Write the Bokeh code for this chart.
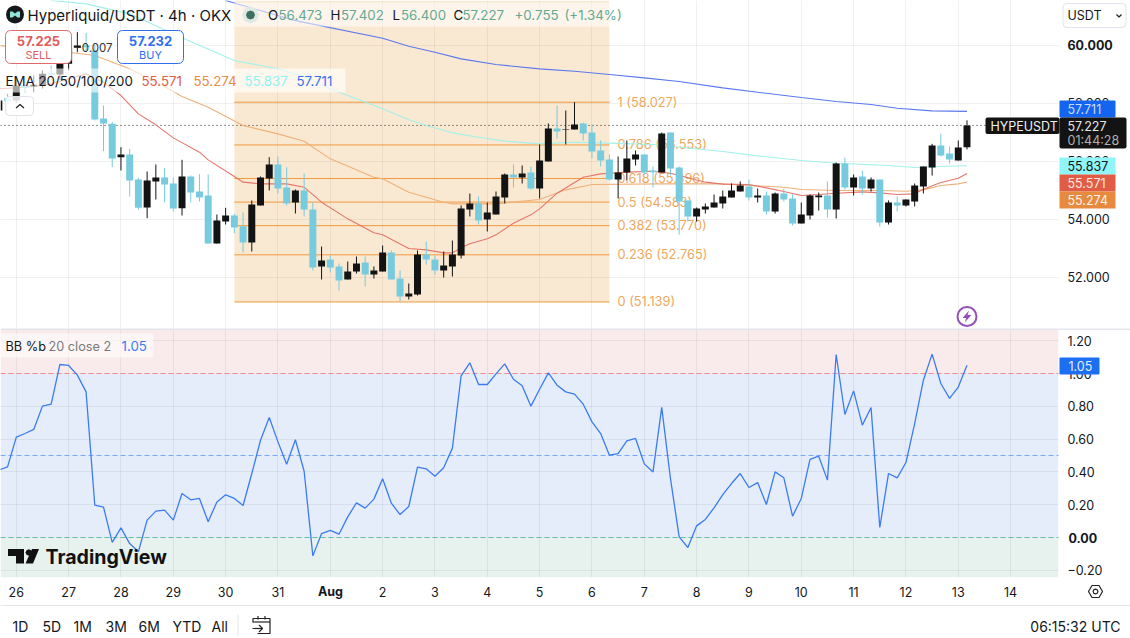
from bokeh.plotting import figure
from bokeh.layouts import column
from bokeh.models import (Label, BoxAnnotation, PolyAnnotation, Grid, LinearAxis, FixedTicker,
                          Range1d)
from bokeh.core.properties import value
from bokeh.embed import file_html
from bokeh.resources import INLINE

# ---------- chart values ----------
bar_index = list(range(-2, 110))
open_ = [57.741, 58.166, 58.086, 58.60, 58.57, 58.603, 59.028, 58.982, 59.35, 59.902, 59.98, 59.81,
         57.465, 57.281, 56.132, 56.224, 55.362, 54.396, 55.293, 55.431, 55.224, 54.373,
         55.465, 54.948, 54.810, 53.155, 53.914, 54.120, 53.753, 53.190, 54.465, 55.396,
         55.879, 55.086, 54.569, 54.982, 54.327, 52.362, 52.603, 52.362, 51.914, 52.189,
         52.500, 52.086, 52.189, 52.845, 51.948, 51.327, 51.396, 52.776, 52.603, 52.224,
         52.362, 52.741, 54.327, 54.534, 53.983, 54.155, 54.741, 55.534, 55.431, 55.603,
         55.051, 55.983, 57.120, 57.074, 57.086, 57.293, 56.982, 56.362, 56.052, 55.362,
         55.603, 56.052, 56.224, 55.672, 55.603, 56.982, 55.776, 54.638, 54.086, 54.327,
         54.396, 54.534, 54.741, 54.948, 55.121, 54.741, 54.810, 54.258, 54.879, 54.707,
         53.845, 54.120, 54.752, 54.810, 54.327, 55.913, 55.086, 55.465, 55.051, 55.362,
         53.879, 54.569, 54.465, 54.603, 55.121, 55.776, 56.534, 56.258, 56.017, 56.473]
high = [58.25, 58.316, 58.80, 58.75, 58.948, 59.12, 59.293, 59.81, 60.10, 60.442, 60.419, 60.00,
        57.913, 57.339, 56.477, 56.419, 55.419, 55.638, 55.879, 55.764, 55.431, 56.040,
        55.500, 55.546, 55.534, 54.155, 54.385, 54.178, 54.224, 54.638, 55.465, 56.132,
        56.155, 55.787, 55.017, 55.569, 54.569, 53.052, 52.741, 52.465, 52.534, 52.707,
        52.707, 52.362, 53.086, 52.914, 52.224, 51.776, 52.914, 53.224, 52.741, 52.879,
        53.258, 54.465, 54.879, 54.776, 54.569, 54.948, 55.569, 55.879, 55.845, 55.810,
        56.569, 57.293, 57.913, 57.741, 58.027, 57.327, 57.258, 56.707, 56.224, 56.155,
        56.707, 56.362, 56.224, 55.810, 56.982, 56.982, 55.810, 54.638, 54.396, 54.534,
        54.845, 54.982, 55.224, 55.293, 55.362, 55.051, 54.948, 54.913, 55.051, 54.845,
        54.569, 54.845, 54.913, 55.293, 55.948, 56.120, 55.534, 55.672, 55.431, 55.362,
        54.638, 54.776, 54.672, 55.224, 55.810, 56.592, 56.948, 56.500, 56.707, 57.402]
low = [57.60, 57.95, 58.00, 58.35, 58.373, 58.50, 58.775, 58.80, 59.12, 59.75, 59.752, 57.396,
       56.339, 55.787, 55.672, 54.775, 54.327, 54.028, 54.672, 54.569, 54.258, 54.120,
       54.569, 54.603, 53.155, 53.155, 53.810, 53.511, 52.845, 52.879, 54.465, 54.982,
       54.879, 54.465, 54.189, 54.086, 52.224, 51.914, 52.155, 51.534, 51.914, 52.121,
       51.672, 51.948, 52.189, 51.914, 51.155, 51.224, 51.362, 52.431, 52.086, 51.983,
       52.017, 52.638, 54.086, 53.810, 53.569, 54.155, 54.534, 55.086, 55.224, 55.017,
       54.707, 55.983, 56.776, 56.569, 57.086, 56.707, 56.086, 55.810, 55.327, 54.707,
       55.327, 55.845, 55.534, 55.086, 55.603, 55.500, 53.465, 53.914, 53.914, 54.189,
       54.396, 54.362, 54.741, 54.948, 54.638, 54.569, 54.155, 54.189, 54.603, 53.776,
       53.845, 53.983, 54.293, 54.052, 54.017, 55.017, 54.810, 54.845, 54.948, 53.741,
       53.810, 54.258, 54.431, 54.431, 54.879, 55.500, 56.155, 55.914, 56.017, 56.400]
close = [58.086, 58.063, 58.603, 58.52, 58.626, 59.005, 58.982, 59.35, 59.925, 59.982, 59.925, 57.431,
         57.293, 56.086, 56.224, 55.327, 54.385, 55.327, 55.431, 55.189, 54.362, 55.465,
         54.913, 54.741, 53.155, 53.948, 54.120, 53.707, 53.190, 54.500, 55.431, 55.879,
         55.051, 54.534, 54.982, 54.327, 52.327, 52.569, 52.327, 51.879, 52.189, 52.465,
         52.086, 52.224, 52.845, 51.914, 51.327, 51.431, 52.776, 52.603, 52.224, 52.396,
         52.776, 54.362, 54.534, 53.948, 54.224, 54.776, 55.534, 55.431, 55.569, 55.051,
         56.017, 57.120, 57.017, 57.097, 57.258, 56.948, 56.327, 56.017, 55.362, 55.603,
         56.086, 56.224, 55.603, 55.615, 56.948, 55.741, 54.603, 54.086, 54.362, 54.431,
         54.569, 54.776, 54.982, 55.155, 54.741, 54.810, 54.258, 54.879, 54.672, 53.845,
         54.155, 54.810, 54.810, 54.327, 55.913, 55.086, 55.431, 55.051, 55.362, 53.879,
         54.569, 54.465, 54.672, 55.155, 55.810, 56.534, 56.189, 56.052, 56.465, 57.227]

ema20_x = [-2, 2, 4, 8, 10, 12, 14, 16, 18, 21, 22, 25, 26, 28, 31, 33, 35, 38, 41, 42, 45, 47, 49, 50, 51, 52, 54,
           55, 57, 59, 60, 62, 65, 67, 70, 73, 75, 79, 81, 84, 86, 88, 90, 92, 94, 97, 99, 101, 103, 104, 106, 108, 109]
ema20_y = [58.488, 58.569, 58.660, 59.005, 58.718, 58.258, 57.626, 57.247, 56.798, 56.304, 56.040, 55.465, 55.270,
           55.212, 55.212, 55.097, 54.580, 54.005, 53.523, 53.454, 52.983, 52.936, 52.833, 52.833, 53.005, 53.144,
           53.316, 53.454, 53.856, 54.143, 54.350, 54.890, 55.442, 55.557, 55.615, 55.649, 55.580, 55.270, 55.201,
           55.189, 55.074, 54.948, 54.810, 54.845, 54.890, 54.936, 54.902, 54.845, 54.867, 55.028, 55.258, 55.408, 55.571]
ema50_x = [-2, 6, 9, 13, 17, 19, 22, 26, 30, 33, 36, 41, 42, 45, 49, 50, 55, 60, 63, 66, 74, 81, 85, 88, 90, 94, 99,
           102, 104, 106, 108, 109]
ema50_y = [59.982, 59.752, 59.637, 59.178, 58.568, 58.224, 57.856, 57.224, 56.936, 56.683, 56.074, 55.442, 55.385,
           54.925, 54.580, 54.523, 54.523, 54.672, 55.005, 55.189, 55.212, 55.212, 55.143, 55.097, 55.017, 54.982,
           54.982, 54.959, 55.005, 55.155, 55.212, 55.274]
ema100_x = [4, 8, 13, 19, 25, 30, 33, 36, 42, 45, 47, 50, 53, 56, 60, 64, 68, 73, 81, 85, 90, 94, 100, 103, 106, 109]
ema100_y = [61.534, 61.419, 61.074, 60.247, 59.465, 59.178, 58.913, 58.488, 57.798, 57.419, 57.224, 56.971, 56.821,
            56.684, 56.592, 56.649, 56.615, 56.569, 56.327, 56.178, 56.017, 55.925, 55.845, 55.776, 55.810, 55.837]
ema200_x = [24, 32, 42, 45, 48, 51, 55, 60, 64, 68, 72, 76, 81, 85, 90, 94, 98, 101, 105, 109]
ema200_y = [61.534, 60.84, 60.235, 59.959, 59.752, 59.522, 59.327, 59.178, 59.097, 58.982, 58.867, 58.741, 58.523,
            58.373, 58.190, 58.051, 57.948, 57.821, 57.729, 57.711]

bb_pct = [0.411, 0.431, 0.612, 0.634, 0.659, 0.801, 0.813, 1.055, 1.049, 0.990, 0.888, 0.197,
          0.185, -0.030, 0.059, -0.037, -0.087, 0.106, 0.161, 0.167, 0.106, 0.268,
          0.230, 0.238, 0.096, 0.217, 0.260, 0.238, 0.195, 0.390, 0.593, 0.732,
          0.583, 0.447, 0.596, 0.404, -0.112, 0.024, 0.043, 0.020, 0.126, 0.211,
          0.179, 0.234, 0.358, 0.209, 0.140, 0.189, 0.429, 0.419, 0.374, 0.425,
          0.545, 0.986, 1.065, 0.933, 0.933, 0.998, 1.059, 0.965, 0.925, 0.801,
          0.904, 1.004, 0.929, 0.888, 0.874, 0.813, 0.705, 0.634, 0.502, 0.512,
          0.589, 0.604, 0.449, 0.400, 0.793, 0.360, 0.004, -0.061, 0.071, 0.110,
          0.181, 0.262, 0.329, 0.390, 0.305, 0.335, 0.201, 0.400, 0.364, 0.130,
          0.238, 0.476, 0.496, 0.350, 1.116, 0.750, 0.894, 0.685, 0.793, 0.061,
          0.390, 0.364, 0.457, 0.695, 0.959, 1.118, 0.939, 0.848, 0.917, 1.051]

fib_ratio = ["1", "0.786", "0.618", "0.5", "0.382", "0.236", "0"]
fib_price = [58.027, 56.553, 55.396, 54.583, 53.770, 52.765, 51.139]
fib_start, fib_end = 25.0, 68.0
bb_levels = [1.0, 0.5, 0.0]
bb_level_colors = ["#f08a90", "#7aa8f8", "#62bfa6"]

day_ticks = [6 * k for k in range(0, 20)]
day_labels = ["26", "27", "28", "29", "30", "31", "", "2", "3", "4", "5", "6", "7", "8", "9",
              "10", "11", "12", "13", "14"]
price_ticks = [52, 54, 56, 58]
bb_ticks = [-0.2, 0.2, 0.4, 0.6, 0.8, 1.0, 1.2]
bb_tick_labels = ["\u22120.20", "0.20", "0.40", "0.60", "0.80", "1.00", "1.20"]
bb_grid = [-0.2, 0, 0.2, 0.4, 0.6, 0.8, 1.0, 1.2]
range_buttons = ["1D", "5D", "1M", "3M", "6M", "YTD", "All"]

# ---------- colours / fonts ----------
FONT = "Inter"
UP, DOWN = "#131313", "#76cbdf"
INK = "#131722"

# ---------- scale helpers ----------
def X(px): return (px - 15.8) / 8.722
def Y1(py): return 60 - (py - 44.5) / 29.0
def Y2(py): return (537 - py) / 164.0


# transparent layer for the TradingView chrome, measured in page pixels
ov = figure(width=1130, height=638, x_range=Range1d(0, 1130), y_range=Range1d(638, 0),
            x_axis_type=None, y_axis_type=None, output_backend="svg", toolbar_location=None,
            min_border=0, outline_line_color=None, background_fill_color=None, border_fill_color=None,
            styles={"position": "absolute", "left": "0px", "top": "0px", "z-index": "5"})


def txt(x, y, s, color=INK, size=13, style="normal", align="left"):
    ov.add_layout(Label(x=x, y=y, text=s, text_color=color, text_font=FONT,
                        text_font_size=f"{size}px", text_font_style=style,
                        text_align=align, text_baseline="middle"))


def box(l, t, r, b, fill="#ffffff", alpha=1.0, line=None, radius=0, line_width=1):
    ov.add_layout(BoxAnnotation(left=l, right=r, top=t, bottom=b, fill_color=fill, fill_alpha=alpha,
                                line_color=line, line_alpha=1.0 if line else 0.0, line_width=line_width,
                                border_radius=radius))


def poly(pts, fill=None, line=INK, line_width=1.2, path=False):
    pts = list(pts)
    if path:
        pts = pts + pts[-2:0:-1]
    ov.add_layout(PolyAnnotation(xs=[a for a, _ in pts], ys=[b for _, b in pts],
                                 fill_color=fill, fill_alpha=1.0 if fill else 0.0,
                                 line_color=line, line_alpha=1.0 if line else 0.0, line_width=line_width))


x_range = Range1d(X(0), X(1058))

# ---------- price pane ----------
p1 = figure(width=1130, height=329, x_range=x_range, y_range=Range1d(Y1(329), Y1(0)),
            x_axis_type=None, y_axis_type=None, output_backend="svg", toolbar_location=None,
            min_border_left=0, min_border_right=72, min_border_top=0, min_border_bottom=0,
            outline_line_color=None, background_fill_color="#ffffff", border_fill_color="#ffffff")
GRID_KW = dict(grid_line_color="#2a2e39", grid_line_alpha=0.07, grid_line_width=1)
p1.add_layout(Grid(dimension=0, ticker=FixedTicker(ticks=day_ticks), **GRID_KW))
p1.add_layout(Grid(dimension=1, ticker=FixedTicker(ticks=price_ticks + [60]), **GRID_KW))
ax1 = LinearAxis(ticker=FixedTicker(ticks=price_ticks),
                 major_label_overrides={t: f"{t}.000" for t in price_ticks},
                 major_tick_line_color=None, minor_tick_line_color=None, axis_line_color=None,
                 major_label_standoff=3, major_label_text_font=FONT, major_label_text_font_size="12.5px",
                 major_label_text_color=INK)
p1.add_layout(ax1, "right")

p1.quad(left=[fib_start], right=[fib_end], top=[Y1(0)], bottom=[fib_price[-1]],
        fill_color="#fae9d2", line_color=None, level="image")
p1.segment(x0=[X(0)], x1=[X(1058)], y0=[close[-1]], y1=[close[-1]], line_color="#222222", line_dash="1 3", line_width=1)
p1.segment(x0=[fib_start] * 7, x1=[fib_end] * 7, y0=fib_price, y1=fib_price, line_color="#f09a3e", line_width=1)
p1.text(x=[X(617)] * 7, y=fib_price, text=[f"{r} ({v:.3f})" for r, v in zip(fib_ratio, fib_price)],
        text_color="#eea85c", text_font=value(FONT), text_font_size="12.8px", text_baseline="middle")

p1.line(ema200_x, ema200_y, line_color="#5a78f0", line_width=1.1)
p1.line(ema100_x, ema100_y, line_color="#a2f1ea", line_width=1.1)
p1.line(ema50_x, ema50_y, line_color="#efb078", line_width=1.1)
p1.line(ema20_x, ema20_y, line_color="#e5766a", line_width=1.1)

colors = [UP if c >= o else DOWN for o, c in zip(open_, close)]
p1.segment(x0=bar_index, x1=bar_index, y0=low, y1=high, line_color=colors, line_width=1)
p1.vbar(x=bar_index, width=0.8, top=[max(a, b) for a, b in zip(open_, close)],
        bottom=[min(a, b) for a, b in zip(open_, close)], fill_color=colors, line_color=None)

# lightning marker
p1.scatter([X(966.5)], [Y1(316)], size=19, marker="circle", fill_color="#ffffff", line_color="#9350ba", line_width=2)
p1.patch([X(a) for a in (968.5, 962, 965.8, 964.2, 971, 967, 968.5)],
         [Y1(b) for b in (310, 317.5, 317.5, 322, 314.5, 314.5, 310)], fill_color="#9350ba", line_color=None)

# ---------- BB %b pane ----------
p2 = figure(width=1130, height=309, x_range=x_range, y_range=Range1d(Y2(577), Y2(329)),
            x_axis_type=None, y_axis_type=None, output_backend="svg", toolbar_location=None,
            min_border_left=0, min_border_right=72, min_border_top=0, min_border_bottom=61,
            outline_line_color=None, background_fill_color="#ffffff", border_fill_color="#ffffff")
p2.quad(left=[X(0)] * 3, right=[X(1058)] * 3, top=[Y2(329), 1.0, 0.0], bottom=[1.0, 0.0, Y2(577)],
        fill_color=["#f9ebeb", "#e5edfb", "#e7f2ef"], line_color=None, level="image")
p2.add_layout(Grid(dimension=0, ticker=FixedTicker(ticks=day_ticks), **GRID_KW))
p2.add_layout(Grid(dimension=1, ticker=FixedTicker(ticks=bb_grid), **GRID_KW))
dash_starts = list(range(0, 1058, 8))
for lvl, col in zip(bb_levels, bb_level_colors):
    p2.segment(x0=[X(s) for s in dash_starts], x1=[X(s + 5) for s in dash_starts],
               y0=[lvl] * len(dash_starts), y1=[lvl] * len(dash_starts), line_color=col, line_width=1)
p2.line(bar_index, bb_pct, line_color="#3b7cf2", line_width=1.3)

ax2 = LinearAxis(ticker=FixedTicker(ticks=bb_ticks), major_label_overrides=dict(zip(bb_ticks, bb_tick_labels)),
                 major_tick_line_color=None, minor_tick_line_color=None, axis_line_color=None,
                 major_label_standoff=3, major_label_text_font=FONT, major_label_text_font_size="12.5px",
                 major_label_text_color=INK)
p2.add_layout(ax2, "right")
ax3 = LinearAxis(ticker=FixedTicker(ticks=day_ticks), major_label_overrides=dict(zip(day_ticks, day_labels)),
                 major_tick_line_color=None, minor_tick_line_color=None, axis_line_color=None,
                 major_label_standoff=3, major_label_text_font=FONT, major_label_text_font_size="12.5px",
                 major_label_text_color=INK)
p2.add_layout(ax3, "below")

# ---------- chrome, price pane ----------
box(234, 2, 610, 26, alpha=0.55)
box(0, 68, 345, 92, alpha=0.62)
box(5, 30, 71, 63, line="#e26a6a", radius=5)
txt(38, 40, "57.225", color="#e05c5c", size=13, style="bold", align="center")
txt(38, 54, "SELL", color="#e05c5c", size=11, align="center")
box(117, 30, 183, 63, line="#2f6ff0", radius=5)
txt(150, 40, "57.232", color="#2f6ff0", size=13, style="bold", align="center")
txt(150, 54, "BUY", color="#2f6ff0", size=11, align="center")
txt(94, 47, "-0.007", color="#333333", size=11.5, align="center")
box(5, 96, 33, 115, alpha=0.85, line="#dfe2e8", radius=4)
poly([(15.5, 107.5), (19.5, 104), (23.5, 107.5)], line="#222222", path=True)

poly([(14.5 + dx, 14 + dy) for dx, dy in
      ((9, 0), (8.3, 3.4), (6.4, 6.4), (3.4, 8.3), (0, 9), (-3.4, 8.3), (-6.4, 6.4), (-8.3, 3.4), (-9, 0),
       (-8.3, -3.4), (-6.4, -6.4), (-3.4, -8.3), (0, -9), (3.4, -8.3), (6.4, -6.4), (8.3, -3.4))],
     fill="#16191c", line=None)
poly([(9.5, 11), (12, 11), (14.5, 13), (17, 11), (19.5, 11), (19.5, 17), (17, 17), (14.5, 15), (12, 17), (9.5, 17)],
     fill="#8fe5d8", line=None)
txt(27, 14.5, "Hyperliquid/USDT \u00b7 4h \u00b7 OKX", size=15)
poly([(250 + dx, 14.5 + dy) for dx, dy in
      ((8.5, 0), (6, 6), (0, 8.5), (-6, 6), (-8.5, 0), (-6, -6), (0, -8.5), (6, -6))], fill="#dfe9e3", line=None)
poly([(250 + dx, 14.5 + dy) for dx, dy in
      ((4.5, 0), (3.2, 3.2), (0, 4.5), (-3.2, 3.2), (-4.5, 0), (-3.2, -3.2), (0, -4.5), (3.2, -3.2))],
     fill="#3d6e5e", line=None)
GREEN = "#64a892"
for xt, s, c in ((267.5, "O", INK), (278, "56.473", GREEN), (330, "H", INK), (340.5, "57.402", GREEN),
                 (392, "L", INK), (400.5, "56.400", GREEN), (453, "C", INK), (462, "57.227", GREEN),
                 (514, "+0.755", GREEN), (564, "(+1.34%)", GREEN)):
    txt(xt, 14.5, s, color=c, size=13.3)
txt(5, 80.5, "EMA 20/50/100/200", size=13.3)
for xt, s, c in ((141, "55.571", "#e05c4a"), (193, "55.274", "#e88a45"), (244, "55.837", "#8ff3f3"), (296, "57.711", "#3a6ff0")):
    txt(xt, 80.5, s, color=c, size=13.3)

box(1062.5, 3, 1125.5, 27, line="#e0e3eb", radius=4)
txt(1067, 15, "USDT", size=12.5)
poly([(1116, 14), (1118.5, 16.5), (1121, 14)], line="#222222", path=True)
txt(1067, 44.5, "60.000", size=12.5, style="bold")
box(1059, 100, 1115, 117, fill="#1464f0", radius=1)
txt(1067, 108.5, "57.711", color="#c9dcff", size=12.5)
box(985, 117, 1059, 133.5, fill="#131313", radius=2)
txt(990, 125.5, "HYPEUSDT", color="#f0f0f0", size=12.5)
box(1059, 117, 1126, 148, fill="#131313", radius=2)
txt(1067, 125.5, "57.227", color="#e6e6e6", size=12.5)
txt(1067, 139.5, "01:44:28", color="#b0b0b0", size=12.5)
box(1059, 157, 1115, 174, fill="#8ff5f8")
txt(1067, 165.5, "55.837", color="#131313", size=12.5)
box(1059, 174, 1115, 191, fill="#e15c45")
txt(1067, 182.5, "55.571", color="#fde9e3", size=12.5)
box(1059, 191, 1115, 208, fill="#e68a40")
txt(1067, 199.5, "55.274", color="#fff3e6", size=12.5)

# ---------- chrome, lower pane ----------
txt(330, 591, "Aug", size=12.5, style="bold", align="center")
txt(1068, 537, "0.00", size=12.5, style="bold")
box(0, 328, 1130, 329.5, fill="#e2e5ec")
box(0, 333, 153, 357, alpha=0.55)
txt(5, 345.5, "BB %b", size=12.7)
txt(48, 345.5, "20 close 2", color="#7a7a7a", size=12.7)
txt(121, 345.5, "1.05", color="#3b7cf2", size=13.3)
box(1059, 357, 1099, 374, fill="#1c6ef2", radius=1)
txt(1068, 365.5, "1.05", color="#e4eeff", size=12.5)

poly([(7.5, 548.5), (23.5, 548.5), (23.5, 563), (15.5, 563), (15.5, 555.5), (7.5, 555.5)], fill="#111111", line=None)
poly([(28.3 + dx, 552 + dy) for dx, dy in
      ((3.3, 0), (2.3, 2.3), (0, 3.3), (-2.3, 2.3), (-3.3, 0), (-2.3, -2.3), (0, -3.3), (2.3, -2.3))],
     fill="#111111", line=None)
poly([(31.5, 548.5), (38.5, 548.5), (32.5, 563), (25, 563)], fill="#111111", line=None)
txt(45, 556, "TradingView", color="#111111", size=19.6, style="bold")

poly([(1088, 591), (1091.5, 585), (1098.5, 585), (1102, 591), (1098.5, 597), (1091.5, 597)], line="#222222")
poly([(1095 + dx, 591 + dy) for dx, dy in
      ((2.4, 0), (1.7, 1.7), (0, 2.4), (-1.7, 1.7), (-2.4, 0), (-1.7, -1.7), (0, -2.4), (1.7, -1.7))], line="#222222")
box(0, 604.5, 1130, 605.5, fill="#e2e5ec")
for xt, s in zip((12, 42, 73, 105, 138, 172, 211), range_buttons):
    txt(xt, 626, s, size=14)
box(237, 614, 238, 636, fill="#e2e5ec")
poly([(252.5, 622), (252.5, 618), (269.5, 618), (269.5, 633), (257, 633)], line="#222222", path=True)
poly([(252.5, 621.5), (269.5, 621.5)], line="#222222", path=True)
poly([(257.5, 615.5), (257.5, 619)], line="#222222", path=True)
poly([(264.5, 615.5), (264.5, 619)], line="#222222", path=True)
poly([(252, 628), (262, 628)], line="#222222", path=True)
poly([(258.5, 624.5), (262, 628), (258.5, 631.5)], line="#222222", path=True)
txt(1120, 625.5, "06:15:32 UTC", size=14, align="right")

root = column(p1, p2, spacing=0, styles={"position": "absolute", "left": "0px", "top": "0px"})
open("out.html", "w").write(file_html([root, ov], INLINE))
